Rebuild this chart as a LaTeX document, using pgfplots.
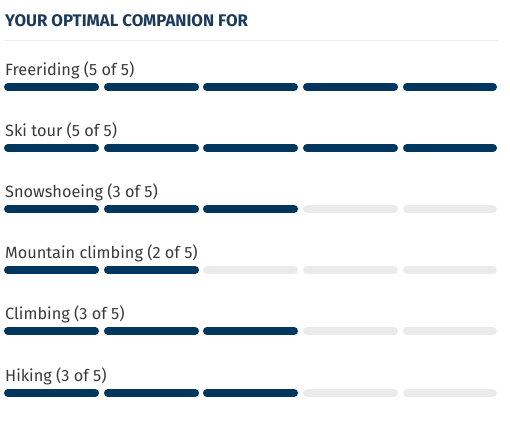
\documentclass[border=0pt]{standalone}
\usepackage{pgfplots}
\pgfplotsset{compat=1.18}
\usepackage{fontspec}
\setmainfont{Fira Sans}
\definecolor{navy}{HTML}{01375F}
\definecolor{emptyseg}{HTML}{EBEBEB}
\definecolor{ttl}{HTML}{1B3A5C}
\definecolor{lab}{HTML}{3A3A3A}
\definecolor{rulec}{HTML}{EEEEEE}
\begin{document}
\begin{tikzpicture}
\begin{axis}[width=510pt,height=421pt,scale only axis,
  xmin=0,xmax=510,ymin=0,ymax=421,y dir=reverse,
  axis line style={draw=none},xtick=\empty,ytick=\empty,
  unbounded coords=jump,
  every axis plot/.append style={no marks,line width=8pt,line cap=round}]
% title rule
\addplot[rulec,line width=1pt,line cap=butt] coordinates {(5,40) (498,40)};
% empty segments (all rows, all 5)
\addplot[emptyseg] coordinates {
(8,87)(95,87)(nan,87)(108,87)(195,87)(nan,87)(207,87)(294,87)(nan,87)(307,87)(394,87)(nan,87)(407,87)(493,87)(nan,87)
(8,148)(95,148)(nan,148)(108,148)(195,148)(nan,148)(207,148)(294,148)(nan,148)(307,148)(394,148)(nan,148)(407,148)(493,148)(nan,148)
(8,209)(95,209)(nan,209)(108,209)(195,209)(nan,209)(207,209)(294,209)(nan,209)(307,209)(394,209)(nan,209)(407,209)(493,209)(nan,209)
(8,270)(95,270)(nan,270)(108,270)(195,270)(nan,270)(207,270)(294,270)(nan,270)(307,270)(394,270)(nan,270)(407,270)(493,270)(nan,270)
(8,331)(95,331)(nan,331)(108,331)(195,331)(nan,331)(207,331)(294,331)(nan,331)(307,331)(394,331)(nan,331)(407,331)(493,331)(nan,331)
(8,393)(95,393)(nan,393)(108,393)(195,393)(nan,393)(207,393)(294,393)(nan,393)(307,393)(394,393)(nan,393)(407,393)(493,393)
};
% filled segments: Freeriding 5, Ski tour 5, Snowshoeing 3, Mountain climbing 2, Climbing 3, Hiking 3
\addplot[navy] coordinates {
(8,87)(95,87)(nan,87)(108,87)(195,87)(nan,87)(207,87)(294,87)(nan,87)(307,87)(394,87)(nan,87)(407,87)(493,87)(nan,87)
(8,148)(95,148)(nan,148)(108,148)(195,148)(nan,148)(207,148)(294,148)(nan,148)(307,148)(394,148)(nan,148)(407,148)(493,148)(nan,148)
(8,209)(95,209)(nan,209)(108,209)(195,209)(nan,209)(207,209)(294,209)(nan,209)
(8,270)(95,270)(nan,270)(108,270)(195,270)(nan,270)
(8,331)(95,331)(nan,331)(108,331)(195,331)(nan,331)(207,331)(294,331)(nan,331)
(8,393)(95,393)(nan,393)(108,393)(195,393)(nan,393)(207,393)(294,393)
};
\node[anchor=base west,inner sep=0pt,text=ttl,font=\fontsize{16.8}{20}\selectfont\bfseries] at (axis cs:5,26) {YOUR OPTIMAL COMPANION FOR};
\begin{scope}[every node/.style={anchor=base west,inner sep=0pt,text=lab,font=\fontsize{16.3}{20}\selectfont}]
\node at (axis cs:5,75) {Freeriding (5 of 5)};
\node at (axis cs:5,136) {Ski tour (5 of 5)};
\node at (axis cs:5,197) {Snowshoeing (3 of 5)};
\node at (axis cs:5,258) {Mountain climbing (2 of 5)};
\node at (axis cs:5,319) {Climbing (3 of 5)};
\node at (axis cs:5,381) {Hiking (3 of 5)};
\end{scope}
\end{axis}
\end{tikzpicture}
\end{document}
